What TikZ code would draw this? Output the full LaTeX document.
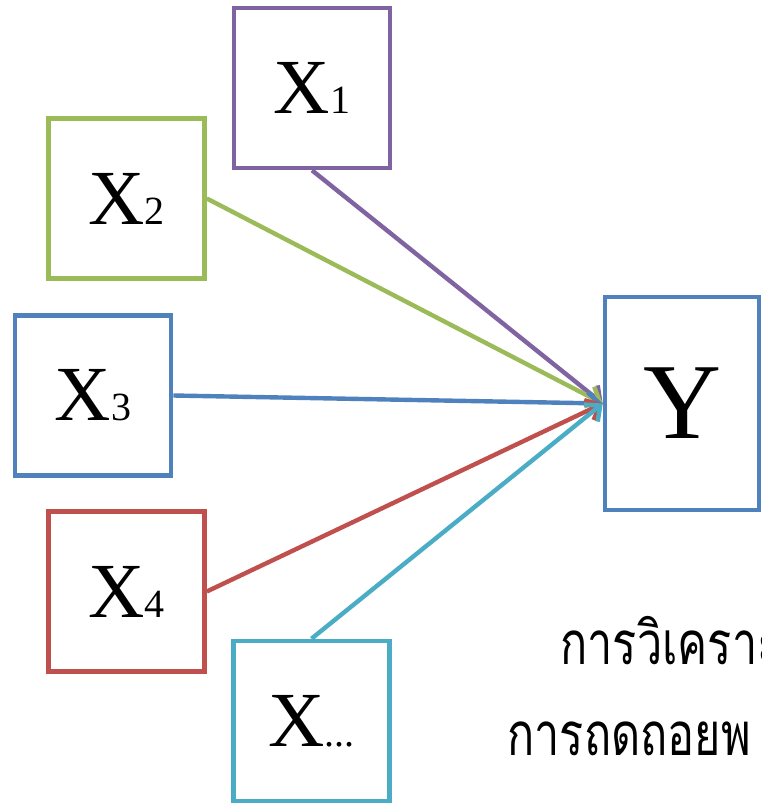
\documentclass[tikz,border=0pt]{standalone}
\usepackage{fontspec}
\setmainfont{Liberation Serif}
\newfontfamily\thaifont[Script=Thai,FakeStretch=0.75]{Loma}
\usetikzlibrary{arrows.meta}

\definecolor{purp}{RGB}{128,100,162}
\definecolor{grn}{RGB}{155,187,89}
\definecolor{blu}{RGB}{79,129,189}
\definecolor{rd}{RGB}{192,80,77}
\definecolor{cyn}{RGB}{75,172,198}

\newcommand{\varx}[1]{{\fontsize{39}{39}\selectfont X}{\fontsize{20}{20}\selectfont #1}}

\tikzset{
  varbox/.style={draw=#1, line width=2.3pt, fill=white, minimum width=78pt, minimum height=80pt, inner sep=0pt},
  link/.style={draw=#1, line width=2.2pt, -{Straight Barb[length=6pt,width=11pt]}}
}

\begin{document}
\begin{tikzpicture}[x=0.5pt,y=-0.5pt]
\useasboundingbox (0,0) rectangle (761,806);
\node[varbox=purp] (x1) at (312,88) {\varx{1}};
\node[varbox=grn] (x2) at (126.5,198.5) {\varx{2}};
\node[varbox=blu] (x3) at (93,395.5) {\varx{3}};
\node[varbox=rd] (x4) at (126.5,591.5) {\varx{4}};
\node[varbox=cyn] (xn) at (311.5,721) {\varx{...}};
\node[varbox=blu, minimum width=77pt, minimum height=106.5pt] (y) at (682,403.5) {\fontsize{54}{54}\selectfont Y};
\draw[link=purp] (x1.south) -- (y.west);
\draw[link=grn] (x2.east) -- (y.west);
\draw[link=blu] (x3.east) -- (y.west);
\draw[link=rd] (x4.east) -- (y.west);
\draw[link=cyn] (xn.north) -- (y.west);
\node[anchor=base west, inner sep=0pt] (t1) at (560,664) {\thaifont\fontsize{30}{30}\selectfont การวิเคราะ};
\node[anchor=base west, inner sep=0pt] (t2) at (507,755) {\thaifont\fontsize{30}{30}\selectfont การถดถอยพ};
\end{tikzpicture}
\end{document}
